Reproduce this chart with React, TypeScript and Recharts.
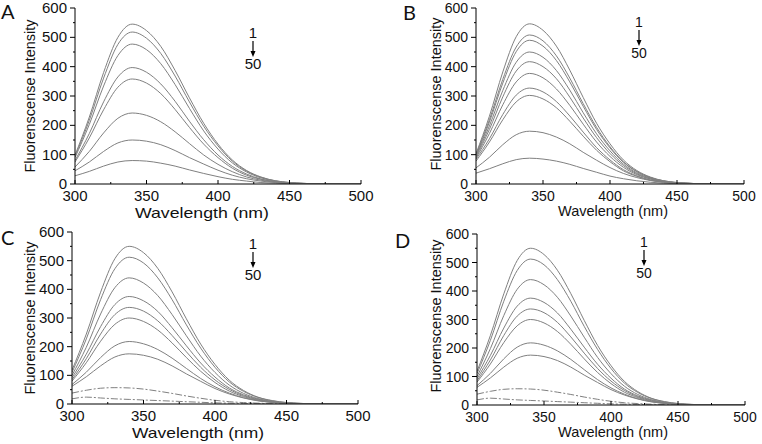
import React from 'react';
import { LineChart, Line, XAxis, YAxis } from 'recharts';

// wavelength grid (nm)
const wavelengths = [300, 310, 320, 330, 340, 350, 360, 370, 380, 390, 400, 410, 420, 430, 440, 450, 460, 480, 500];

const xTicks = [300, 325, 350, 375, 400, 425, 450, 475, 500];
const yTicks = [0, 50, 100, 150, 200, 250, 300, 350, 400, 450, 500, 550, 600];

// Panel A spectra, curve 1 on top
const seriesA: number[][] = [
    [98, 228, 380, 500, 545, 523, 469, 387, 294, 207, 136, 82, 46, 24, 11, 5, 2, 0, 0],
    [94, 217, 361, 476, 518, 497, 445, 368, 280, 197, 130, 78, 44, 23, 11, 5, 2, 0, 0],
    [90, 203, 334, 438, 477, 458, 410, 339, 258, 181, 119, 72, 41, 21, 10, 4, 2, 0, 0],
    [80, 172, 280, 365, 397, 381, 341, 282, 214, 151, 99, 60, 34, 17, 8, 4, 2, 0, 0],
    [75, 157, 253, 330, 358, 344, 308, 254, 193, 136, 90, 54, 30, 16, 8, 3, 1, 0, 0],
    [58, 111, 174, 224, 242, 234, 212, 178, 138, 99, 67, 42, 24, 13, 6, 3, 1, 0, 0],
    [45, 75, 111, 140, 150, 146, 134, 114, 90, 68, 47, 30, 18, 10, 5, 2, 1, 0, 0],
    [28, 43, 61, 75, 80, 78, 71, 61, 48, 36, 25, 16, 10, 5, 3, 1, 0.5, 0, 0],
];

const seriesB: number[][] = [
    [103, 231, 382, 502, 546, 524, 470, 388, 295, 207, 137, 82, 46, 24, 11, 5, 2, 0, 0],
    [100, 219, 357, 467, 508, 488, 437, 361, 274, 193, 127, 76, 43, 22, 11, 5, 2, 0, 0],
    [97, 211, 344, 451, 490, 470, 421, 348, 265, 186, 123, 74, 42, 22, 10, 4, 2, 0, 0],
    [95, 198, 319, 415, 450, 432, 387, 320, 243, 171, 113, 68, 38, 20, 9, 4, 2, 0, 0],
    [92, 186, 297, 385, 417, 400, 359, 296, 225, 158, 104, 63, 35, 18, 9, 4, 2, 0, 0],
    [88, 172, 270, 348, 377, 362, 324, 268, 204, 143, 94, 57, 32, 17, 8, 3, 2, 0, 0],
    [84, 154, 237, 303, 327, 314, 281, 232, 177, 124, 82, 49, 28, 14, 7, 3, 1, 0, 0],
    [78, 143, 219, 280, 302, 290, 260, 214, 163, 115, 76, 45, 26, 13, 6, 3, 1, 0, 0],
    [55, 91, 134, 168, 180, 175, 160, 137, 108, 81, 56, 36, 22, 12, 6, 3, 1, 0, 0],
    [37, 52, 69, 83, 88, 85, 78, 67, 53, 40, 27, 18, 11, 6, 3, 1, 0.5, 0, 0],
];

const seriesC: number[][] = [
    [118, 244, 390, 507, 550, 528, 473, 391, 297, 209, 138, 83, 47, 24, 12, 5, 2, 0, 0],
    [110, 227, 364, 472, 512, 492, 440, 364, 276, 195, 128, 77, 44, 23, 11, 5, 2, 0, 0],
    [100, 198, 314, 406, 440, 422, 378, 312, 238, 167, 110, 66, 37, 19, 9, 4, 2, 0, 0],
    [92, 174, 270, 347, 375, 360, 323, 266, 203, 143, 94, 56, 32, 17, 8, 3, 1, 0, 0],
    [85, 158, 244, 312, 337, 324, 290, 239, 182, 128, 84, 51, 29, 15, 7, 3, 1, 0, 0],
    [80, 144, 219, 278, 300, 288, 258, 213, 162, 114, 75, 45, 26, 13, 6, 3, 1, 0, 0],
    [68, 111, 162, 203, 218, 210, 190, 160, 124, 89, 60, 38, 22, 12, 6, 3, 1, 0, 0],
    [62, 95, 133, 164, 175, 170, 156, 133, 105, 79, 54, 35, 21, 11, 6, 3, 1, 0, 0],
    [38, 48, 55, 57, 56, 52, 45, 37, 28, 20, 13, 8, 5, 3, 1.5, 0.7, 0.3, 0, 0],
    [18, 24, 21, 18, 16, 14, 12, 10, 8, 6, 4, 3, 2, 1.5, 1, 0.5, 0.2, 0, 0],
];

// panel D is the same set of spectra as C
const seriesD: number[][] = seriesC;

const FONT = '"Liberation Sans", Arial, sans-serif';
const LINE = '#808080';

const buildRows = (series: number[][]) =>
    wavelengths.map((w, i) => {
        const row: any = { w };
        series.forEach((s, k) => {
            row[`s${k}`] = s[i];
        });
        return row;
    });

const makeXTick = (fs: number) => (props: any) => {
    const { x, y, payload } = props;
    const major = payload.value % 50 === 0;
    return (
        <g>
            <line x1={x} y1={y} x2={x} y2={y - (major ? 4 : 2)} stroke="#000" strokeWidth={1} />
            {major && (
                <text x={x} y={y + 17} textAnchor="middle" fontSize={fs} fontFamily={FONT} fill="#111">
                    {payload.value}
                </text>
            )}
        </g>
    );
};

const makeYTick = (fs: number) => (props: any) => {
    const { x, y, payload } = props;
    const major = payload.value % 100 === 0;
    return (
        <g>
            <line x1={x} y1={y} x2={x - (major ? 5 : 2)} y2={y} stroke="#000" strokeWidth={1} />
            {major && (
                <text x={x - 8} y={y + 5} textAnchor="end" fontSize={fs} fontFamily={FONT} fill="#111">
                    {payload.value}
                </text>
            )}
        </g>
    );
};

interface PanelProps {
    series: number[][];
    left: number;
    top: number;
    plotLeft: number;
    plotRight: number;
    plotTop: number;
    plotBottom: number;
    fs: number;
    dashedFrom?: number;
}

const Panel: React.FC<PanelProps> = ({ series, left, top, plotLeft, plotRight, plotTop, plotBottom, fs, dashedFrom }) => {
    const data = buildRows(series);
    return (
        <div style={{ position: 'absolute', left, top }}>
            <LineChart
                width={381}
                height={222}
                data={data}
                margin={{ top: plotTop, right: 381 - plotRight, left: 0, bottom: 0 }}
            >
                <XAxis
                    dataKey="w"
                    type="number"
                    domain={[300, 500]}
                    ticks={xTicks}
                    interval={0}
                    height={222 - plotBottom}
                    tickSize={0}
                    tickMargin={0}
                    tickLine={false}
                    axisLine={{ stroke: '#000', strokeWidth: 1 }}
                    tick={makeXTick(fs)}
                    allowDataOverflow
                />
                <YAxis
                    type="number"
                    domain={[0, 600]}
                    ticks={yTicks}
                    interval={0}
                    width={plotLeft}
                    tickSize={0}
                    tickMargin={0}
                    tickLine={false}
                    axisLine={{ stroke: '#000', strokeWidth: 1 }}
                    tick={makeYTick(fs)}
                    allowDataOverflow
                />
                {series.map((_, k) => (
                    <Line
                        key={k}
                        dataKey={`s${k}`}
                        type="monotone"
                        stroke={LINE}
                        strokeWidth={1}
                        strokeDasharray={dashedFrom !== undefined && k >= dashedFrom ? '7 2 2 2' : undefined}
                        dot={false}
                        isAnimationActive={false}
                    />
                ))}
            </LineChart>
        </div>
    );
};

const Arrow: React.FC<{ x: number; y: number; fs: number }> = ({ x, y, fs }) => (
    <g fontFamily={FONT} fontSize={fs} fill="#111">
        <text x={x} y={y} textAnchor="middle">1</text>
        <line x1={x} y1={y + 3} x2={x} y2={y + 14} stroke="#000" strokeWidth={1.2} />
        <polygon points={`${x - 2.5},${y + 13} ${x + 2.5},${y + 13} ${x},${y + 19}`} fill="#000" />
        <text x={x} y={y + 31} textAnchor="middle">50</text>
    </g>
);

const App: React.FC = () => {
    return (
        <div style={{ position: 'absolute', left: 0, top: 0, width: 762, height: 444, background: '#fff', overflow: 'hidden' }}>
            <Panel series={seriesA} left={0} top={0} plotLeft={75} plotRight={361} plotTop={8} plotBottom={184} fs={15} />
            <Panel series={seriesB} left={381} top={0} plotLeft={95} plotRight={363} plotTop={8} plotBottom={184} fs={14} />
            <Panel series={seriesC} left={0} top={222} plotLeft={72} plotRight={358} plotTop={10} plotBottom={182} fs={15} dashedFrom={8} />
            <Panel series={seriesD} left={381} top={222} plotLeft={96} plotRight={364} plotTop={12} plotBottom={183} fs={14} dashedFrom={8} />

            <svg width={762} height={444} style={{ position: 'absolute', left: 0, top: 0, pointerEvents: 'none' }}>
                {/* panel letters */}
                <g fontFamily="Lato, sans-serif" fontSize={20} fill="#111">
                    <text x={1} y={19}>A</text>
                    <text x={403} y={20}>B</text>
                    <text x={1} y={245}>C</text>
                    <text x={395} y={248}>D</text>
                </g>

                {/* y axis titles */}
                <g fontFamily={FONT} fontSize={14.5} fill="#111" textAnchor="middle">
                    <text transform="translate(35,96) rotate(-90)">Fluorenscense Intensity</text>
                    <text transform="translate(441,94) rotate(-90)">Fluorenscense Intensity</text>
                    <text transform="translate(35,318) rotate(-90)">Fluorenscense Intensity</text>
                    <text transform="translate(441,316) rotate(-90)">Fluorenscense Intensity</text>
                </g>

                {/* x axis titles */}
                <g fontFamily={FONT} fontSize={14.5} fill="#111" textAnchor="middle">
                    <text x={202} y={218} textLength={134} lengthAdjust="spacingAndGlyphs">Wavelength (nm)</text>
                    <text x={613} y={216} textLength={110} lengthAdjust="spacingAndGlyphs">Wavelength (nm)</text>
                    <text x={198} y={438} textLength={132} lengthAdjust="spacingAndGlyphs">Wavelength (nm)</text>
                    <text x={613} y={437} textLength={110} lengthAdjust="spacingAndGlyphs">Wavelength (nm)</text>
                </g>

                {/* titration direction markers */}
                <Arrow x={253} y={38} fs={15} />
                <Arrow x={639} y={27} fs={14} />
                <Arrow x={253} y={249} fs={15} />
                <Arrow x={644} y={247} fs={14} />
            </svg>
        </div>
    );
};

export default App;
